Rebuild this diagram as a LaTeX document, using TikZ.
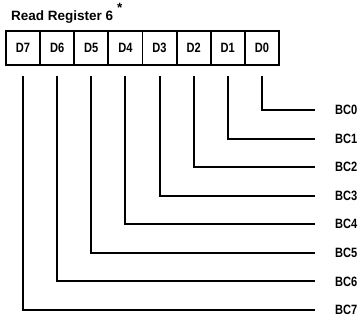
\documentclass[tikz,border=0pt]{standalone}
\usepackage{fontspec}
\setmainfont{Liberation Sans}
\newfontfamily\narrowfont[FakeStretch=0.82]{Liberation Sans}
\usetikzlibrary{calc}
\begin{document}
\begin{tikzpicture}[x=1pt,y=-1pt,
  cell/.style={draw,line width=1.9pt,minimum width=34.125pt,minimum height=34pt,inner sep=0pt,font=\narrowfont\bfseries\fontsize{13.5}{15}\selectfont},
  bclabel/.style={anchor=west,inner sep=0pt,font=\narrowfont\bfseries\fontsize{13.5}{15}\selectfont},
  wire/.style={line width=1.9pt,shorten >=20pt}]
\useasboundingbox (0,0) rectangle (363,320);
\node[anchor=base west,inner sep=0pt,font=\bfseries\fontsize{13.5}{16}\selectfont] (title) at (11,21) {Read Register 6\hspace{4pt}\raisebox{8pt}{*}};
\foreach \i/\n in {0/7,1/6,2/5,3/4,4/3,5/2,6/1,7/0} {
  \node[cell] (d\n) at ({6+17.0625+\i*34.125},48) {D\n};
  \coordinate (s\n) at ($(d\n.south)+(0,10)$);
}
\foreach \n in {0,...,7} {
  \node[bclabel] (bc\n) at (335,{110+\n*28.57}) {BC\n};
  \draw[wire] (s\n) |- (bc\n.west);
}
\end{tikzpicture}
\end{document}
